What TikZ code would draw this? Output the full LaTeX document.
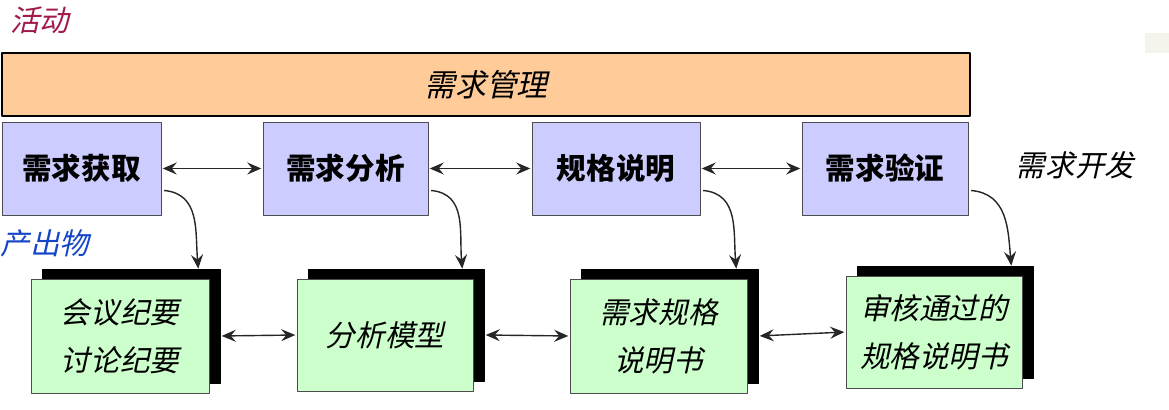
\documentclass[tikz,border=0pt]{standalone}
\usepackage{fontspec}
\usetikzlibrary{shadows,arrows.meta}
\newfontfamily\cjk{Noto Sans CJK SC}
\newfontfamily\cjkit{Noto Sans CJK SC}[FakeSlant=0.22]
\definecolor{barorange}{HTML}{FFCC99}
\definecolor{actblue}{HTML}{CCCCFF}
\definecolor{prodgreen}{HTML}{CCFFCC}
\definecolor{actred}{HTML}{A01A4C}
\definecolor{prodblue}{HTML}{1545C8}
\definecolor{speck}{HTML}{F4F4EC}
\begin{document}
\begin{tikzpicture}[line join=round,>={Stealth[length=10pt,width=8.5pt,inset=3.5pt]},
	font=\fontsize{21pt}{31pt}\selectfont,
	act/.style={draw=black!70,fill=actblue,inner sep=0pt,minimum height=2.325cm,font=\fontsize{21pt}{31pt}\selectfont\cjk\bfseries},
	prod/.style={draw=black!70,fill=prodgreen,inner sep=0pt,align=center,font=\fontsize{21pt}{34pt}\selectfont\cjkit,
		copy shadow={shadow xshift=0.275cm,shadow yshift=0.25cm,fill=black,draw=black}},
	link/.style={<->,line width=1pt,black!85,shorten >=1pt,shorten <=1pt},
	outlink/.style={->,line width=1pt,black!85}]
	\useasboundingbox (0,0) rectangle (29.225,10.25);
	\fill[speck] (28.625,8.925) rectangle (29.225,9.425);
	% labels
	\node[text=actred,font=\fontsize{21pt}{25pt}\selectfont\cjkit] (hd) at (1.0,9.75) {活动};
	\node[text=prodblue,font=\fontsize{21pt}{25pt}\selectfont\cjkit] (po) at (1.125,4.175) {产出物};
	\node[font=\fontsize{21pt}{25pt}\selectfont\cjkit] (rd) at (26.875,6.125) {需求开发};
	% requirement management bar
	\node[draw=black,thick,fill=barorange,minimum width=24.2cm,minimum height=1.575cm,font=\fontsize{22pt}{26pt}\selectfont\cjkit] (rm) at (12.15,8.1375) {需求管理};
	% activities
	\node[act,minimum width=3.975cm] (b1) at (2.0375,6.0375) {需求获取};
	\node[act,minimum width=4.125cm] (b2) at (8.6375,6.0375) {需求分析};
	\node[act,minimum width=4.2cm] (b3) at (15.4,6.0375) {规格说明};
	\node[act,minimum width=4.15cm] (b4) at (22.125,6.0375) {需求验证};
	% products
	\node[prod,minimum width=4.45cm,minimum height=2.85cm] (g1) at (3.0,1.85) {会议纪要\\讨论纪要};
	\node[prod,minimum width=4.4cm,minimum height=2.8cm] (g2) at (9.625,1.875) {分析模型};
	\node[prod,minimum width=4.425cm,minimum height=2.85cm] (g3) at (16.4625,1.85) {需求规格\\说明书};
	\node[prod,minimum width=4.4cm,minimum height=2.8cm] (g4) at (23.35,1.95) {审核通过的\\规格说明书};
	% connectors
	\draw[link] (b1.east) -- (b2.west);
	\draw[link] (b2.east) -- (b3.west);
	\draw[link] (b3.east) -- (b4.west);
	\draw[link] ([xshift=0.275cm]g1.east) -- (g2.west);
	\draw[link] ([xshift=0.275cm]g2.east) -- (g3.west);
	\draw[link] ([xshift=0.275cm]g3.east) -- (g4.west);
	\foreach \i in {1,2,3,4}
		\draw[outlink] ([xshift=2pt,yshift=-0.55cm]b\i.east) to[out=-5,in=95,looseness=1.1] ([xshift=-0.275cm,yshift=0.25cm]g\i.north east);
\end{tikzpicture}
\end{document}
